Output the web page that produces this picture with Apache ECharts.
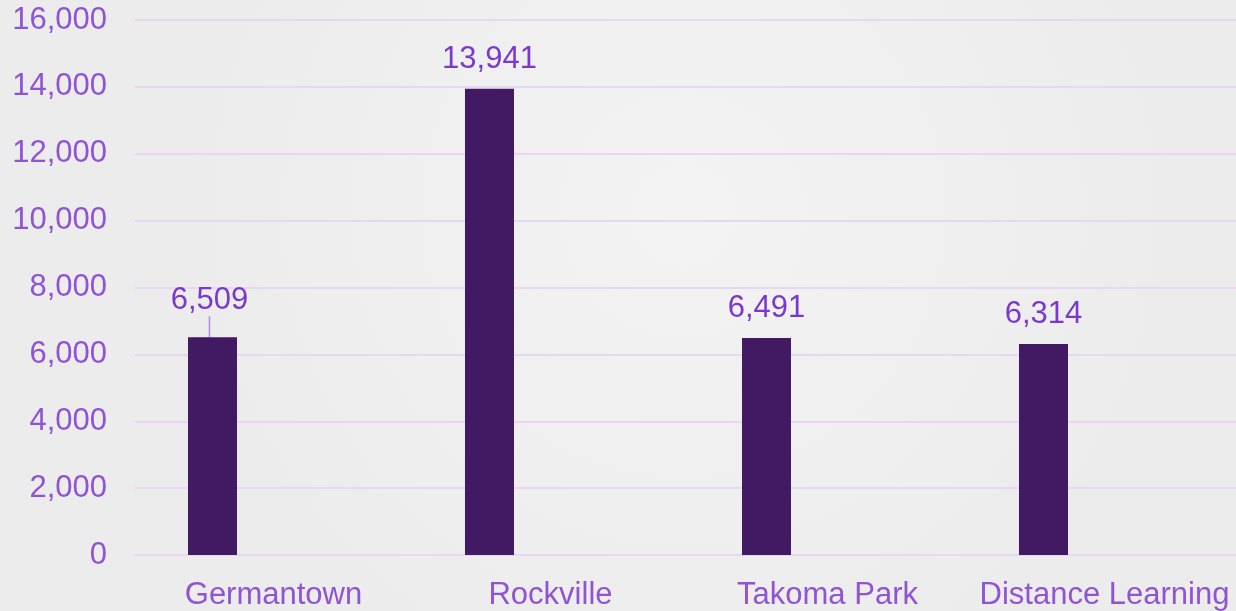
<!DOCTYPE html>
<html>
<head>
<meta charset="utf-8">
<script src="https://cdn.jsdelivr.net/npm/echarts@6/dist/echarts.min.js"></script>
<style>html,body{margin:0;padding:0;overflow:hidden;width:1236px;height:611px;background:#eeeeee;}#c{width:1243px;height:611px;}</style>
</head>
<body>
<div id="c"></div>
<script>
var categories = ['Germantown', 'Rockville', 'Takoma Park', 'Distance Learning'];
var values = [6509, 13941, 6491, 6314];
var yTicks = { min: 0, max: 16000, interval: 2000 };

var chart = echarts.init(document.getElementById('c'));
chart.setOption({
  backgroundColor: {
    type: 'radial', x: 0.55, y: 0.35, r: 0.8,
    colorStops: [{ offset: 0, color: '#f3f3f3' }, { offset: 1, color: '#ececec' }]
  },
  textStyle: { fontFamily: 'Liberation Sans, Arial, sans-serif' },
  grid: { left: 135, right: 0, top: 20, bottom: 56, containLabel: false },
  xAxis: {
    type: 'category',
    data: categories,
    axisLine: { show: true, lineStyle: { color: '#e6d8f5', width: 2 } },
    axisTick: { show: false },
    axisLabel: { color: '#8f53d6', fontSize: 31, margin: 25, interval: 0 }
  },
  yAxis: {
    type: 'value',
    min: yTicks.min, max: yTicks.max, interval: yTicks.interval,
    axisLine: { show: false },
    axisTick: { show: false },
    splitLine: { lineStyle: { color: '#e6d8f5', width: 2 } },
    axisLabel: {
      color: '#8f53d6', fontSize: 31, margin: 28,
      formatter: function (v) { return v.toLocaleString('en-US'); }
    }
  },
  series: [
    {
      type: 'bar',
      data: values.map(function (v, i) {
        var d = { value: v };
        if (i === 0) { d.labelLine = { show: true, lineStyle: { color: '#b68be8', width: 1.6 } }; }
        return d;
      }),
      barWidth: 49,
      barGap: '149%',
      itemStyle: { color: '#421a63' },
      label: {
        show: true, position: 'top', distance: 14,
        color: '#7b38cf', fontSize: 31,
        formatter: function (p) { return p.value.toLocaleString('en-US'); }
      },
      labelLayout: function (p) {
        if (p.dataIndex === 0) { return { dx: -3, dy: -7 }; }
        return {};
      }
    },
    {
      type: 'bar',
      data: categories.map(function () { return '-'; }),
      barWidth: 49
    }
  ]
});
</script>
</body>
</html>
